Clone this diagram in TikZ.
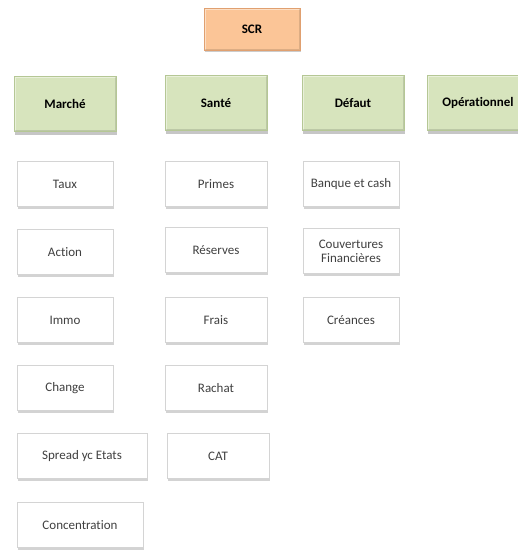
\documentclass[tikz,border=0pt]{standalone}
\usepackage{fontspec}
\setmainfont{Carlito}[Ligatures=CommonOff]
\usetikzlibrary{shadows}
\definecolor{scrfill}{HTML}{FBC597}
\definecolor{scrline}{HTML}{E0A070}
\definecolor{catfill}{HTML}{D7E4BD}
\definecolor{catline}{HTML}{B5C795}
\definecolor{subline}{HTML}{D4D4D4}
\definecolor{subtext}{HTML}{404040}
\begin{document}
\begin{tikzpicture}[x=1pt,y=-1pt,
    bevel/.style={path picture={
      \draw[white,opacity=0.45,line width=3pt]
        (path picture bounding box.south west) -- (path picture bounding box.north west)
        -- (path picture bounding box.north east);
      \draw[black,opacity=0.12,line width=3pt]
        (path picture bounding box.north east) -- (path picture bounding box.south east)
        -- (path picture bounding box.south west);}},
    topbox/.style={draw=scrline,fill=scrfill,bevel,minimum width=96pt,minimum height=42pt,
      font=\bfseries\fontsize{13}{15}\selectfont,
      drop shadow={shadow xshift=1pt,shadow yshift=-2pt,opacity=0.4}},
    catbox/.style={draw=catline,fill=catfill,bevel,minimum width=102pt,minimum height=55pt,
      font=\bfseries\fontsize{13}{15}\selectfont,
      drop shadow={shadow xshift=1pt,shadow yshift=-3pt,opacity=0.45}},
    subbox/.style={draw=subline,fill=white,minimum width=96pt,minimum height=45pt,
      text=subtext,align=center,font=\fontsize{13}{14}\selectfont,
      drop shadow={shadow xshift=1pt,shadow yshift=-2.5pt,opacity=0.35}}]
  \useasboundingbox (0,0) rectangle (518,550);
  % top
  \node[topbox] (scr) at (252,29) {SCR};
  % modules
  \node[catbox] (marche) at (65,104) {Marché};
  \node[catbox] (sante) at (216,103) {Santé};
  \node[catbox] (defaut) at (353,103) {Défaut};
  \node[catbox] (operationnel) at (478,103) {Opérationnel};
  % sous-modules marche
  \node[subbox] (taux) at (65,184) {Taux};
  \node[subbox] (action) at (65,252) {Action};
  \node[subbox] (immo) at (65,320) {Immo};
  \node[subbox] (change) at (65,388) {Change};
  \node[subbox,minimum width=130pt] (spread) at (82,456) {Spread yc Etats};
  \node[subbox,minimum width=126pt] (concentration) at (80,525) {Concentration};
  % sous-modules sante
  \node[subbox,minimum width=102pt] (primes) at (216,184) {Primes};
  \node[subbox,minimum width=102pt] (reserves) at (216,250) {Réserves};
  \node[subbox,minimum width=102pt] (frais) at (216,320) {Frais};
  \node[subbox,minimum width=102pt] (rachat) at (216,388) {Rachat};
  \node[subbox,minimum width=102pt] (cat) at (218,456) {CAT};
  % sous-modules defaut
  \node[subbox] (banque) at (351,184) {Banque et cash};
  \node[subbox] (couvertures) at (351,251) {Couvertures\\Financières};
  \node[subbox] (creances) at (351,320) {Créances};
\end{tikzpicture}
\end{document}
